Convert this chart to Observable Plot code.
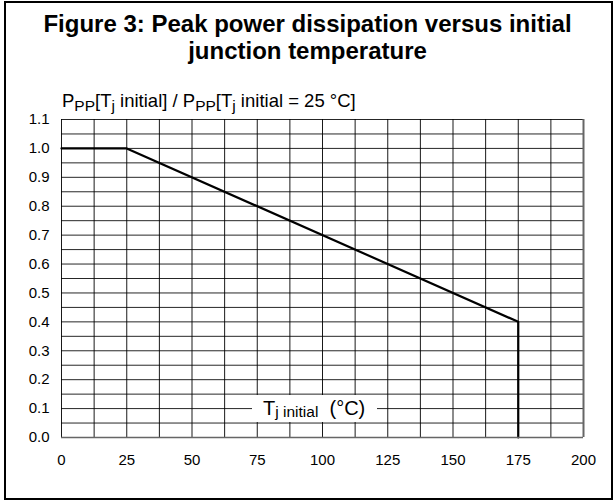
<!DOCTYPE html>
<html>
<head>
<meta charset="utf-8">
<script src="https://cdn.jsdelivr.net/npm/d3@7"></script>
<script src="https://cdn.jsdelivr.net/npm/@observablehq/plot@0.6"></script>
<style>
  html, body { margin: 0; padding: 0; background: #fff; }
  #wrap { position: relative; width: 615px; height: 504px; overflow: hidden; font-family: "Liberation Sans", Arial, sans-serif; color: #000; }
  #border { position: absolute; left: 4px; top: 1px; width: 609px; height: 499px; border: 2px solid #000; box-sizing: border-box; }
  #title { position: absolute; left: 0; top: 10px; width: 615px; text-align: center; font-weight: bold; font-size: 24px; line-height: 27px; }
  #ylabel { position: absolute; left: 62px; top: 92px; font-size: 18.5px; line-height: 18px; white-space: nowrap; }
  #xlabel { position: absolute; background: #fff; display: flex; align-items: center; justify-content: center; font-size: 20px; white-space: nowrap; }
  .sub { font-size: 15.5px; position: relative; top: 4px; }
  #chart { position: absolute; left: 0; top: 0; }
</style>
</head>
<body>
<div id="wrap">
  <div id="chart"></div>
  <div id="border"></div>
  <div id="title">Figure 3: Peak power dissipation versus initial<br>junction temperature</div>
  <div id="ylabel">P<span class="sub">PP</span>[T<span class="sub">j</span> initial] / P<span class="sub">PP</span>[T<span class="sub">j</span> initial = 25 °C]</div>
  <div id="xlabel">T<span class="sub">j initial</span>&nbsp;&nbsp;(°C)</div>
</div>
<script>
// Data
const tjInitial = [0, 25, 175, 175];
const pppRatio  = [1.0, 1.0, 0.4, 0.0];

// Axis ticks
const xTicks = [0, 25, 50, 75, 100, 125, 150, 175, 200];
const yTicks = [0.0, 0.1, 0.2, 0.3, 0.4, 0.5, 0.6, 0.7, 0.8, 0.9, 1.0, 1.1];

// Grid lines
const xGrid = [0, 12.5, 25, 37.5, 50, 62.5, 75, 87.5, 100, 112.5, 125, 137.5, 150, 162.5, 175, 187.5, 200];
const yGrid = [0.0, 0.05, 0.1, 0.15, 0.2, 0.25, 0.3, 0.35, 0.4, 0.45, 0.5, 0.55, 0.6, 0.65, 0.7, 0.75, 0.8, 0.85, 0.9, 0.95, 1.0, 1.05, 1.1];

// X-axis title box extent (data coordinates)
const xLabelBox = { x1: 73, x2: 121, y1: 0.052, y2: 0.146 };

(function () {
  const curve = tjInitial.map((t, i) => ({ t, p: pppRatio[i] }));

  const chart = Plot.plot({
    width: 615,
    height: 504,
    marginLeft: 61,
    marginRight: 32,
    marginTop: 119,
    marginBottom: 67,
    style: { fontFamily: "'Liberation Sans', Arial, sans-serif", fontSize: "15px", color: "#000", background: "transparent", overflow: "visible" },
    x: { domain: [0, 200], ticks: xTicks, tickFormat: d => String(d), tickSize: 0, tickPadding: 17, label: null },
    y: { domain: [0, 1.1], ticks: yTicks, tickFormat: d => d.toFixed(1), tickSize: 0, tickPadding: 12, label: null },
    marks: [
      Plot.ruleX(xGrid, { stroke: "#000", strokeWidth: 1, strokeOpacity: 0.9 }),
      Plot.ruleY(yGrid, { stroke: "#000", strokeWidth: 1, strokeOpacity: 0.85 }),
      Plot.line(curve, { x: "t", y: "p", stroke: "#000", strokeWidth: 2.2 }),
      Plot.ruleX([200], { stroke: "#666", strokeWidth: 2 }),
      Plot.ruleY([0], { stroke: "#666", strokeWidth: 1.5 })
    ]
  });
  document.getElementById("chart").appendChild(chart);

  // Place the boxed x-axis title using the chart's scales
  const sx = chart.scale("x"), sy = chart.scale("y");
  const lab = document.getElementById("xlabel");
  const bx1 = sx.apply(xLabelBox.x1), bx2 = sx.apply(xLabelBox.x2);
  const by1 = sy.apply(xLabelBox.y2), by2 = sy.apply(xLabelBox.y1);
  lab.style.left = bx1 + "px";
  lab.style.top = by1 + "px";
  lab.style.width = (bx2 - bx1) + "px";
  lab.style.height = (by2 - by1) + "px";
})();
</script>
</body>
</html>
